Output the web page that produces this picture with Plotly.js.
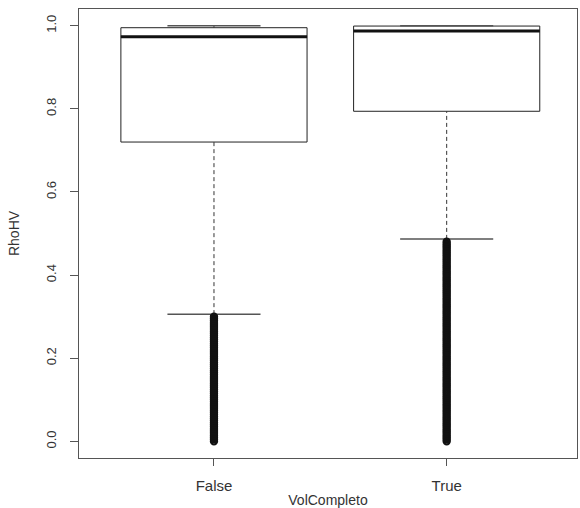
<!DOCTYPE html>
<html>
<head>
<meta charset="utf-8">
<script src="https://cdn.plot.ly/plotly-3.0.1.min.js"></script>
<style>html,body{margin:0;padding:0;background:#fff;}#chart{width:580px;height:508px;}</style>
</head>
<body>
<div id="chart"></div>
<script>
// Categories and box statistics
const categories = ['False', 'True'];
const q1Values = [0.72, 0.794];
const medianValues = [0.973, 0.987];
const q3Values = [0.995, 0.999];
const lowerWhisker = [0.306, 0.487];
const upperWhisker = [1.0, 1.0];
// Outliers (dense column of points below the lower whisker)
const outliersFalse = [0.000,0.005,0.010,0.015,0.020,0.025,0.030,0.035,0.040,0.045,0.050,0.055,0.060,0.065,0.070,0.075,0.080,0.085,0.090,0.095,0.100,0.105,0.110,0.115,0.120,0.125,0.130,0.135,0.140,0.145,0.150,0.155,0.160,0.165,0.170,0.175,0.180,0.185,0.190,0.195,0.200,0.205,0.210,0.215,0.220,0.225,0.230,0.235,0.240,0.245,0.250,0.255,0.260,0.265,0.270,0.275,0.280,0.285,0.290,0.295,0.300];
const outliersTrue = [0.000,0.005,0.010,0.015,0.020,0.025,0.030,0.035,0.040,0.045,0.050,0.055,0.060,0.065,0.070,0.075,0.080,0.085,0.090,0.095,0.100,0.105,0.110,0.115,0.120,0.125,0.130,0.135,0.140,0.145,0.150,0.155,0.160,0.165,0.170,0.175,0.180,0.185,0.190,0.195,0.200,0.205,0.210,0.215,0.220,0.225,0.230,0.235,0.240,0.245,0.250,0.255,0.260,0.265,0.270,0.275,0.280,0.285,0.290,0.295,0.300,0.305,0.310,0.315,0.320,0.325,0.330,0.335,0.340,0.345,0.350,0.355,0.360,0.365,0.370,0.375,0.380,0.385,0.390,0.395,0.400,0.405,0.410,0.415,0.420,0.425,0.430,0.435,0.440,0.445,0.450,0.455,0.460,0.465,0.470,0.475,0.480];
const yTicks = [0.0, 0.2, 0.4, 0.6, 0.8, 1.0];
const yTickText = ['0.0', '0.2', '0.4', '0.6', '0.8', '1.0'];

const pos = categories.map((c, i) => i);
const boxHalf = 0.4, capHalf = 0.2;

const traces = [];
traces.push({
  type: 'box', x: pos, q1: q1Values, median: medianValues, q3: q3Values,
  lowerfence: q1Values, upperfence: q3Values, width: 0.8, whiskerwidth: 0,
  fillcolor: 'rgba(255,255,255,1)', line: {color: '#222', width: 1}, boxpoints: false,
  hoverinfo: 'skip', showlegend: false
});
pos.forEach((p, i) => {
  traces.push({type: 'scatter', mode: 'lines', x: [p, p], y: [lowerWhisker[i], q1Values[i]],
    line: {color: '#333', width: 1, dash: '4px,3px'}, hoverinfo: 'skip', showlegend: false});
  traces.push({type: 'scatter', mode: 'lines', x: [p, p], y: [q3Values[i], upperWhisker[i]],
    line: {color: '#333', width: 1, dash: '4px,3px'}, hoverinfo: 'skip', showlegend: false});
  traces.push({type: 'scatter', mode: 'lines', x: [p - capHalf, p + capHalf], y: [lowerWhisker[i], lowerWhisker[i]],
    line: {color: '#555', width: 1.5}, hoverinfo: 'skip', showlegend: false});
  traces.push({type: 'scatter', mode: 'lines', x: [p - capHalf, p + capHalf], y: [upperWhisker[i], upperWhisker[i]],
    line: {color: '#555', width: 1.5}, hoverinfo: 'skip', showlegend: false});
  traces.push({type: 'scatter', mode: 'lines', x: [p - boxHalf, p + boxHalf], y: [medianValues[i], medianValues[i]],
    line: {color: '#111', width: 3}, hoverinfo: 'skip', showlegend: false});
});
const outs = [outliersFalse, outliersTrue];
outs.forEach((arr, i) => {
  traces.push({type: 'scatter', mode: 'markers', x: arr.map(() => pos[i]), y: arr,
    marker: {symbol: 'circle-open', size: 6, color: '#111', line: {width: 2.4}},
    hoverinfo: 'skip', showlegend: false});
});

const layout = {
  width: 580, height: 508,
  margin: {l: 79, r: 3, t: 9, b: 50},
  paper_bgcolor: '#fff', plot_bgcolor: '#fff',
  font: {family: 'Liberation Sans, Arial, sans-serif', color: '#333', size: 14},
  showlegend: false,
  xaxis: {
    range: [-0.58, 1.56], tickmode: 'array', tickvals: pos, ticktext: categories,
    showgrid: false, zeroline: false, showline: true, mirror: true, linecolor: '#555', linewidth: 1,
    ticks: 'outside', ticklen: 7, tickcolor: '#555', ticklabelstandoff: 7,
    tickfont: {size: 15, color: '#333'},
    title: {text: 'VolCompleto', font: {size: 14, color: '#333'}, standoff: 2}
  },
  yaxis: {
    range: [-0.04, 1.04], tickmode: 'array', tickvals: yTicks, ticktext: yTickText, tickangle: -90,
    showgrid: false, zeroline: false, showline: true, mirror: true, linecolor: '#555', linewidth: 1,
    ticks: 'outside', ticklen: 8, tickcolor: '#555', ticklabelstandoff: 9,
    tickfont: {size: 13, color: '#333'},
    title: {text: 'RhoHV', font: {size: 14, color: '#333'}, standoff: 20}
  }
};
Plotly.newPlot('chart', traces, layout, {staticPlot: true, displayModeBar: false});
</script>
</body>
</html>
